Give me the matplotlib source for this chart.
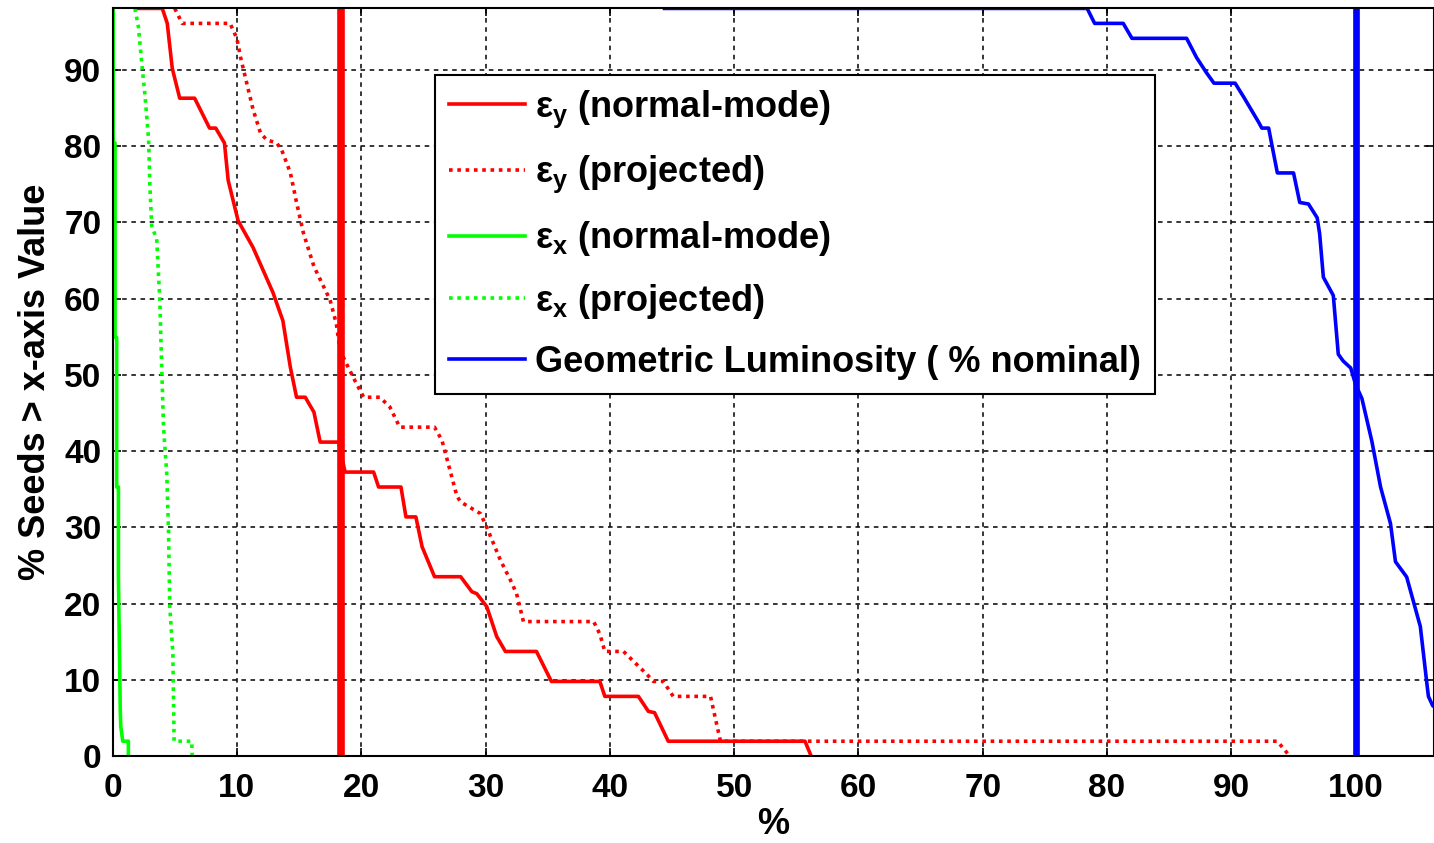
import matplotlib
matplotlib.use("Agg")
from matplotlib import pyplot as plt

plt.rcParams['font.family'] = ['Liberation Sans', 'DejaVu Sans']
plt.rcParams['font.weight'] = 'bold'
plt.rcParams['mathtext.fontset'] = 'custom'
plt.rcParams['mathtext.rm'] = 'Liberation Sans:bold'
plt.rcParams['mathtext.bf'] = 'Liberation Sans:bold'

# eps_y, normal-mode
ey_nm_x = [2.0, 4.0, 4.4, 4.8, 5.4, 6.6, 7.8, 8.3, 9.0, 9.3, 10.1, 11.3, 12.9, 13.7, 14.3, 14.8, 15.5,
           16.2, 16.7, 18.2, 18.7, 21.0, 21.4, 23.2, 23.6, 24.4, 24.9, 25.9, 28.0, 28.9, 29.3, 30.1,
           30.9, 31.6, 34.1, 35.3, 39.2, 39.6, 42.3, 43.1, 43.6, 44.7, 55.7, 56.2]
ey_nm_y = [98.04, 98.04, 96.08, 90.2, 86.27, 86.27, 82.35, 82.35, 80.39, 75.5, 70.2, 66.7, 60.8, 57.1,
           51.0, 47.06, 47.06, 45.1, 41.18, 41.18, 37.25, 37.25, 35.29, 35.29, 31.37, 31.37, 27.45,
           23.53, 23.53, 21.57, 21.3, 19.61, 15.69, 13.73, 13.73, 9.80, 9.80, 7.84, 7.84, 5.88, 5.7,
           1.96, 1.96, 0]

# eps_y, projected
ey_pr_x = [5.0, 5.6, 9.45, 10.0, 10.3, 10.8, 11.3, 11.9, 12.4, 13.2, 13.6, 14.3, 14.8, 15.35, 16.2,
           17.5, 18.0, 18.3, 18.8, 19.6, 20.2, 21.5, 22.3, 23.1, 25.9, 26.5, 27.7, 28.0, 29.6, 30.1,
           31.2, 32.0, 32.5, 33.05, 38.7, 39.2, 39.6, 41.1, 43.0, 43.5, 44.3, 45.1, 48.1, 48.9, 93.7, 94.7]
ey_pr_y = [98.04, 96.08, 96.08, 94.1, 91.6, 88.2, 84.8, 81.7, 80.8, 80.4, 79.5, 76.5, 72.6, 68.6, 64.2,
           59.8, 56.7, 53.2, 51.5, 48.9, 47.06, 47.06, 45.8, 43.14, 43.14, 41.4, 34.1, 33.33, 31.8, 30.0,
           25.7, 23.1, 21.3, 17.65, 17.65, 16.0, 13.73, 13.73, 10.7, 9.80, 9.80, 7.84, 7.84, 1.96, 1.96, 0]

# eps_x, normal-mode
ex_nm_x = [0.05, 0.05, 0.2, 0.2, 0.33, 0.33, 0.47, 0.47, 0.62, 0.66, 0.82, 1.27, 1.27]
ex_nm_y = [98.04, 80.4, 80.4, 54.9, 54.9, 35.3, 35.3, 23.5, 5.9, 3.9, 1.96, 1.96, 0]

# eps_x, projected
ex_pr_x = [1.8, 2.08, 2.35, 2.6, 2.9, 3.0, 3.15, 3.55, 3.8, 3.95, 4.1, 4.36, 4.5, 4.6, 4.85, 4.95, 6.37, 6.4]
ex_pr_y = [98.04, 95.6, 90.8, 86.8, 80.8, 74.8, 69.5, 67.8, 59.8, 51.1, 43.1, 37.0, 29.6, 19.6, 13.5,
           1.96, 1.96, 0]

# geometric luminosity (% nominal)
lum_x = [44.4, 78.4, 79.0, 81.3, 82.0, 86.4, 87.2, 88.0, 88.6, 90.3, 91.0, 92.2, 92.45, 93.0, 93.3,
         93.7, 95.0, 95.5, 96.2, 96.9, 97.1, 97.4, 98.2, 98.6, 99.0, 99.6, 100.0, 100.5, 101.3, 102.0,
         102.8, 103.2, 104.1, 105.2, 105.7, 105.85, 106.2, 107.0]
lum_y = [98.04, 98.04, 96.08, 96.08, 94.12, 94.12, 91.6, 89.6, 88.24, 88.24, 86.4, 83.1, 82.35, 82.35,
         79.8, 76.47, 76.47, 72.6, 72.4, 70.6, 68.5, 62.8, 60.4, 52.7, 51.8, 50.9, 48.7, 46.9, 41.3,
         35.3, 30.5, 25.5, 23.5, 17.0, 9.9, 7.84, 6.6, 5.88]

ey_mark = 18.4
lum_mark = 100

fig = plt.figure(figsize=(14.34, 8.43), dpi=100)
ax = fig.add_axes([0.0785, 0.103, 0.9215, 0.887])

ax.plot(ey_nm_x, ey_nm_y, color='#ff0000', lw=2.6, label=r'ε$_\mathrm{y}$ (normal-mode)')
ax.plot(ey_pr_x, ey_pr_y, color='#ff0000', lw=2.6, ls=(0, (1, 1.3)), label=r'ε$_\mathrm{y}$ (projected)')
ax.plot(ex_nm_x, ex_nm_y, color='#00ff00', lw=2.6, label=r'ε$_\mathrm{x}$ (normal-mode)')
ax.plot(ex_pr_x, ex_pr_y, color='#00ff00', lw=2.6, ls=(0, (1, 1.3)), label=r'ε$_\mathrm{x}$ (projected)')
ax.plot(lum_x, lum_y, color='#0000ff', lw=2.6, label='Geometric Luminosity ( % nominal)')

ax.axvline(ey_mark, color='#ff0000', lw=5.5)
ax.axvline(lum_mark, color='#0000ff', lw=4.8)

ax.set_xlim(0, 106.3)
ax.set_ylim(0, 98.04)
ax.set_xticks(range(0, 101, 10))
ax.set_yticks(range(0, 91, 10))
ax.tick_params(direction='in', length=6, width=1.2, labelsize=24, top=True, right=True)
ax.tick_params(axis='x', pad=12)
ax.tick_params(axis='y', pad=8)
for lab in ax.get_xticklabels() + ax.get_yticklabels():
    lab.set_fontweight('bold')
ax.grid(True, color='black', ls=(0, (3, 3)), lw=1.1)
for s in ax.spines.values():
    s.set_linewidth(1.5)

ax.set_xlabel('%', fontsize=26, fontweight='bold', labelpad=2)
ax.set_ylabel('% Seeds > x-axis Value', fontsize=26, fontweight='bold', labelpad=8)

leg = ax.legend(loc='upper left', bbox_to_anchor=(0.244, 0.911), fontsize=26, frameon=True,
                fancybox=False, edgecolor='black', framealpha=1, handlelength=2.1,
                handletextpad=0.3, labelspacing=0.66, borderpad=0.38, borderaxespad=0)
leg.get_frame().set_linewidth(1.5)

fig.savefig('out.png', dpi=100)
